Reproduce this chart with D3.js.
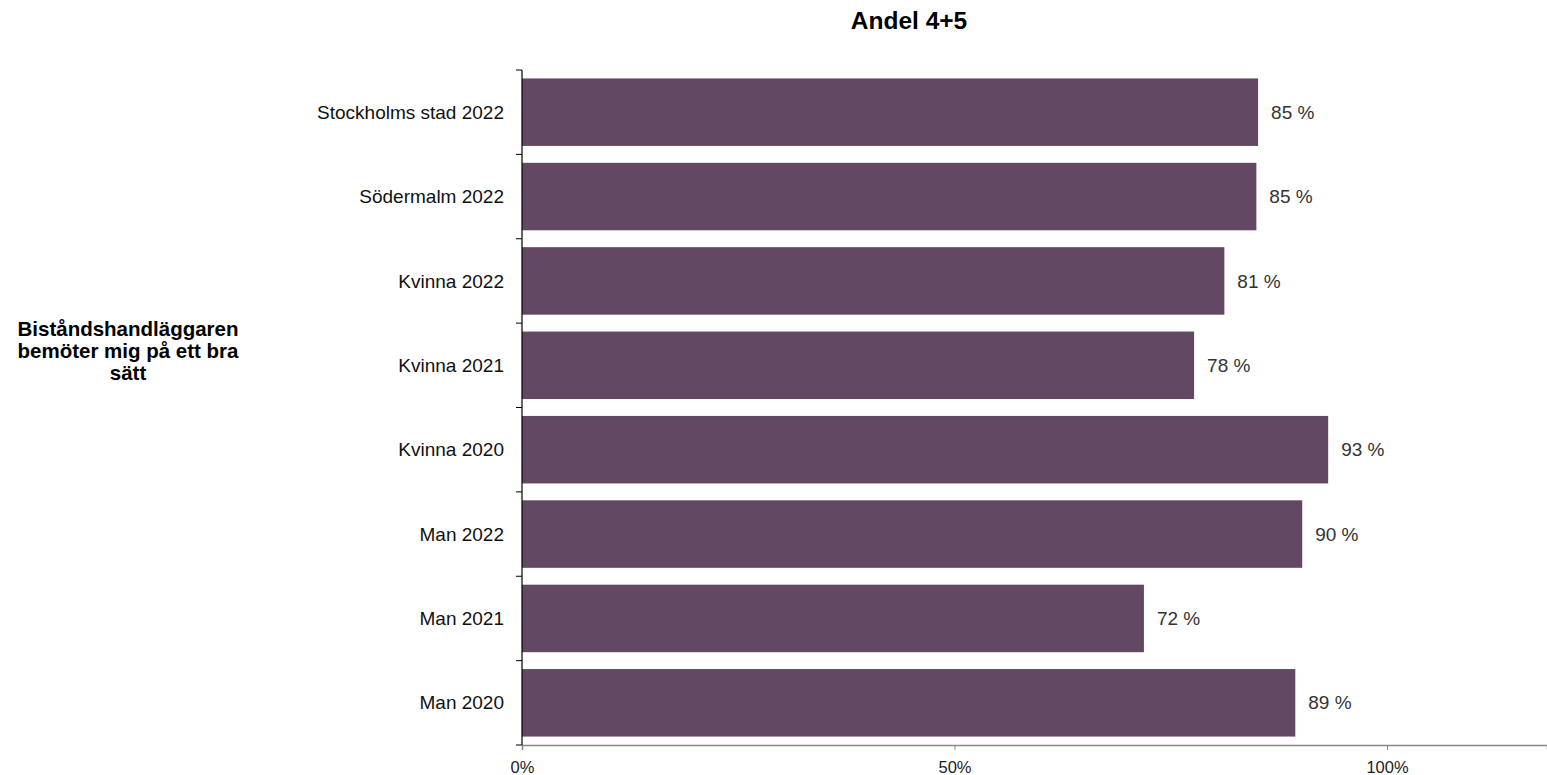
<!DOCTYPE html>
<html>
<head>
<meta charset="utf-8">
<script src="https://cdn.jsdelivr.net/npm/d3@7"></script>
<style>
  body { margin: 0; background: #fff; }
  svg { font-family: "Liberation Sans", Arial, sans-serif; }
</style>
</head>
<body>
<svg width="1547" height="775"></svg>
<script>
// data
const categories = ['Stockholms stad 2022', 'Södermalm 2022', 'Kvinna 2022', 'Kvinna 2021',
                    'Kvinna 2020', 'Man 2022', 'Man 2021', 'Man 2020'];
const values = [0.851, 0.849, 0.812, 0.777, 0.932, 0.902, 0.719, 0.894];
const valueLabels = ['85 %', '85 %', '81 %', '78 %', '93 %', '90 %', '72 %', '89 %'];
const xTicks = [0, 0.5, 1];
const questionLines = ['Biståndshandläggaren', 'bemöter mig på ett bra', 'sätt'];

const svg = d3.select('svg');
const W = 1547;
const plotLeft = 522, plotTop = 70, plotBottom = 745;

const x = d3.scaleLinear().domain([0, 1.185]).range([plotLeft, W]);
const y = d3.scaleBand().domain(categories).range([plotTop, plotBottom])
  .paddingInner(0.2).paddingOuter(0.1);

// title
svg.append('text')
  .attr('x', 909).attr('y', 29)
  .attr('text-anchor', 'middle')
  .attr('font-size', 24.5).attr('font-weight', 'bold')
  .text('Andel 4+5');

// bars
svg.selectAll('rect.bar')
  .data(categories)
  .enter()
  .append('rect')
    .attr('class', 'bar')
    .attr('x', x(0))
    .attr('y', d => y(d))
    .attr('width', (d, i) => x(values[i]) - x(0))
    .attr('height', y.bandwidth())
    .attr('fill', '#634863');

// value labels
svg.selectAll('text.val')
  .data(categories)
  .enter()
  .append('text')
    .attr('class', 'val')
    .attr('x', (d, i) => x(values[i]) + 13)
    .attr('y', d => y(d) + y.bandwidth() / 2)
    .attr('dy', '0.35em')
    .attr('font-size', 19)
    .attr('fill', '#333')
    .text((d, i) => valueLabels[i]);

// x axis
const xAxis = svg.append('g')
  .attr('transform', `translate(0,${plotBottom})`)
  .call(d3.axisBottom(x).tickValues(xTicks).tickFormat(d3.format('.0%')).tickSizeOuter(0).tickSize(5));
xAxis.select('.domain').attr('stroke', '#888').attr('stroke-width', 1.5);
xAxis.selectAll('.tick line').attr('stroke', '#888');
xAxis.selectAll('.tick text')
  .attr('font-size', 16.5).attr('fill', '#222')
  .attr('font-family', '"Liberation Sans", Arial, sans-serif')
  .attr('y', 28).attr('dy', null);

// y axis: ticks on band boundaries
const bounds = categories.map(c => y(c) - y.step() * y.paddingInner() / 2).concat([plotBottom]);
svg.append('line')
  .attr('x1', plotLeft).attr('x2', plotLeft).attr('y1', plotTop).attr('y2', plotBottom)
  .attr('stroke', '#000').attr('stroke-width', 1.2);
svg.selectAll('line.ytick')
  .data(bounds)
  .enter()
  .append('line')
    .attr('class', 'ytick')
    .attr('x1', plotLeft - 6).attr('x2', plotLeft)
    .attr('y1', d => d).attr('y2', d => d)
    .attr('stroke', '#000');

// category labels
svg.selectAll('text.cat')
  .data(categories)
  .enter()
  .append('text')
    .attr('class', 'cat')
    .attr('x', plotLeft - 18)
    .attr('y', d => y(d) + y.bandwidth() / 2)
    .attr('dy', '0.35em')
    .attr('text-anchor', 'end')
    .attr('font-size', 19)
    .attr('fill', '#111')
    .text(d => d);

// question label on the left
svg.append('text')
  .attr('x', 128).attr('y', 336)
  .attr('text-anchor', 'middle')
  .attr('font-size', 20.5).attr('font-weight', 'bold')
  .selectAll('tspan')
  .data(questionLines)
  .enter()
  .append('tspan')
    .attr('x', 128)
    .attr('dy', (d, i) => i === 0 ? 0 : 22)
    .text(d => d);
</script>
</body>
</html>
